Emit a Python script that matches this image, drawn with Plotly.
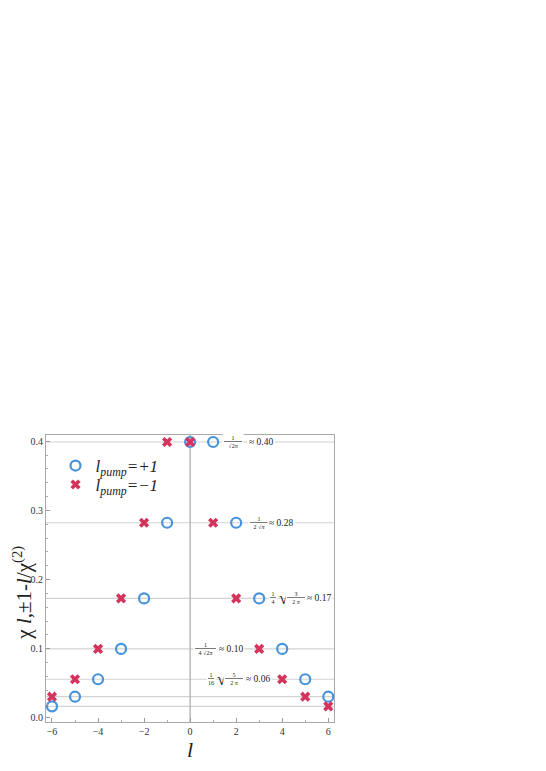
import numpy as np
import plotly.graph_objects as go

# orbital angular momentum index l
l_vals = [-6, -5, -4, -3, -2, -1, 0, 1, 2, 3, 4, 5, 6]

# chi_{l,1-l}/chi^(2) for l_pump = +1 (circles)
chi_plus = [0.0166, 0.0306, 0.0558, 0.0997, 0.1727, 0.2821, 0.3989,
            0.3989, 0.2821, 0.1727, 0.0997, 0.0558, 0.0306]
# chi_{l,-1-l}/chi^(2) for l_pump = -1 (crosses)
chi_minus = [0.0306, 0.0558, 0.0997, 0.1727, 0.2821, 0.3989, 0.3989,
             0.2821, 0.1727, 0.0997, 0.0558, 0.0306, 0.0166]

# levels with their closed forms
levels = [0.3989, 0.2821, 0.1727, 0.0997, 0.0558, 0.0306, 0.0166]

y_ticks = [0.0, 0.1, 0.2, 0.3, 0.4]
x_ticks = [-6, -4, -2, 0, 2, 4, 6]

BLUE = "#4592dd"
RED = "#d4335c"
SERIF = "Liberation Serif"

fig = go.Figure()

fig.add_trace(go.Scatter(
    x=l_vals, y=chi_plus, mode="markers",
    name="<i>l<sub>pump</sub>=+1</i>", legend="legend",
    marker=dict(symbol="circle-open", size=10, color=BLUE, line=dict(width=2.2, color=BLUE)),
))
fig.add_trace(go.Scatter(
    x=l_vals, y=chi_minus, mode="markers",
    name="<i>l<sub>pump</sub>=−1</i>", legend="legend2",
    marker=dict(symbol="x", size=9, color=RED, line=dict(width=0)),
))

# reference lines at each level and at l = 0
for v in levels:
    fig.add_hline(y=v, line=dict(color="#d2d2d2", width=1.2), layer="below")
fig.add_vline(x=0, line=dict(color="#b8b8b8", width=1.5), layer="below")


def frac(x, y, num, den, size=6):
    # small stacked fraction, bar drawn as underline of the padded numerator
    pad = "\u00a0" * max(1, len(den) // 2)
    fig.add_annotation(x=x, y=y, text="<u>" + pad + num + pad + "</u><br>" + den,
                       showarrow=False, align="center", xanchor="center",
                       font=dict(family=SERIF, size=size, color="#222"),
                       bgcolor="white", borderpad=1)


def txt(x, y, s, size=9.5, anchor="left", bg="white"):
    fig.add_annotation(x=x, y=y, text=s, showarrow=False, xanchor=anchor,
                       font=dict(family=SERIF, size=size, color="#222"),
                       bgcolor=bg, borderpad=1)


# 1/sqrt(2 pi)
frac(1.88, levels[0], "1", "√2<i>π</i>")
txt(2.45, levels[0], "≈ 0.40")
# 1/(2 sqrt(pi))
frac(2.99, levels[1], "1", "2 √<i>π</i>")
txt(3.35, levels[1], "≈ 0.28")
# 1/4 sqrt(3/(2 pi))
frac(3.62, levels[2], "1", "4")
txt(4.06, levels[2], "√", size=17, anchor="center", bg="rgba(0,0,0,0)")
frac(4.58, levels[2], "3", "2 <i>π</i>")
txt(4.97, levels[2], "≈ 0.17")
# 1/(4 sqrt(2 pi))
frac(0.67, levels[3], "1", "4 √2<i>π</i>")
txt(1.15, levels[3], "≈ 0.10")
# 1/16 sqrt(5/(2 pi))
frac(0.92, levels[4], "1", "16")
txt(1.38, levels[4], "√", size=17, anchor="center", bg="rgba(0,0,0,0)")
frac(1.90, levels[4], "5", "2 <i>π</i>")
txt(2.32, levels[4], "≈ 0.06")

# y axis label placed as a rotated annotation
fig.add_annotation(xref="paper", yref="paper", x=-0.082, y=0.452,
                   text="χ <i>l</i>,±1-<i>l</i>/χ<sup>(2)</sup>",
                   textangle=-90, showarrow=False, xanchor="center", yanchor="middle",
                   font=dict(family=SERIF, size=21, color="#222"))

axis_common = dict(
    showgrid=False, zeroline=False, showline=True, mirror=True, automargin=False,
    linecolor="#a9a9a9", linewidth=1.2,
    ticks="inside", ticklen=4, tickwidth=1, tickcolor="#999",
    tickfont=dict(family=SERIF, size=10, color="#333"),
)

legend_common = dict(xanchor="left", yanchor="middle", bgcolor="rgba(0,0,0,0)",
                     font=dict(family=SERIF, size=17, color="#222"), itemwidth=30)

fig.update_layout(
    width=538, height=763,
    margin=dict(l=38, r=212, t=427, b=49),
    paper_bgcolor="white", plot_bgcolor="white",
    showlegend=True,
    legend=dict(x=0.033, y=0.892, **legend_common),
    legend2=dict(x=0.033, y=0.826, **legend_common),
    xaxis=dict(range=[-6.26, 6.25], tickvals=x_ticks,
               ticktext=[str(t).replace("-", "−") for t in x_ticks],
               minor=dict(dtick=1, ticks="inside", ticklen=2, tickcolor="#aaa"),
               title=dict(text="<i>l</i>", font=dict(family=SERIF, size=22, color="#222"), standoff=4),
               **axis_common),
    yaxis=dict(range=[-0.006, 0.409], tickvals=y_ticks,
               ticktext=["%.1f" % t for t in y_ticks],
               minor=dict(dtick=0.02, tick0=0, ticks="inside", ticklen=2, tickcolor="#aaa"),
               **axis_common),
)

fig.write_html("out.html")
